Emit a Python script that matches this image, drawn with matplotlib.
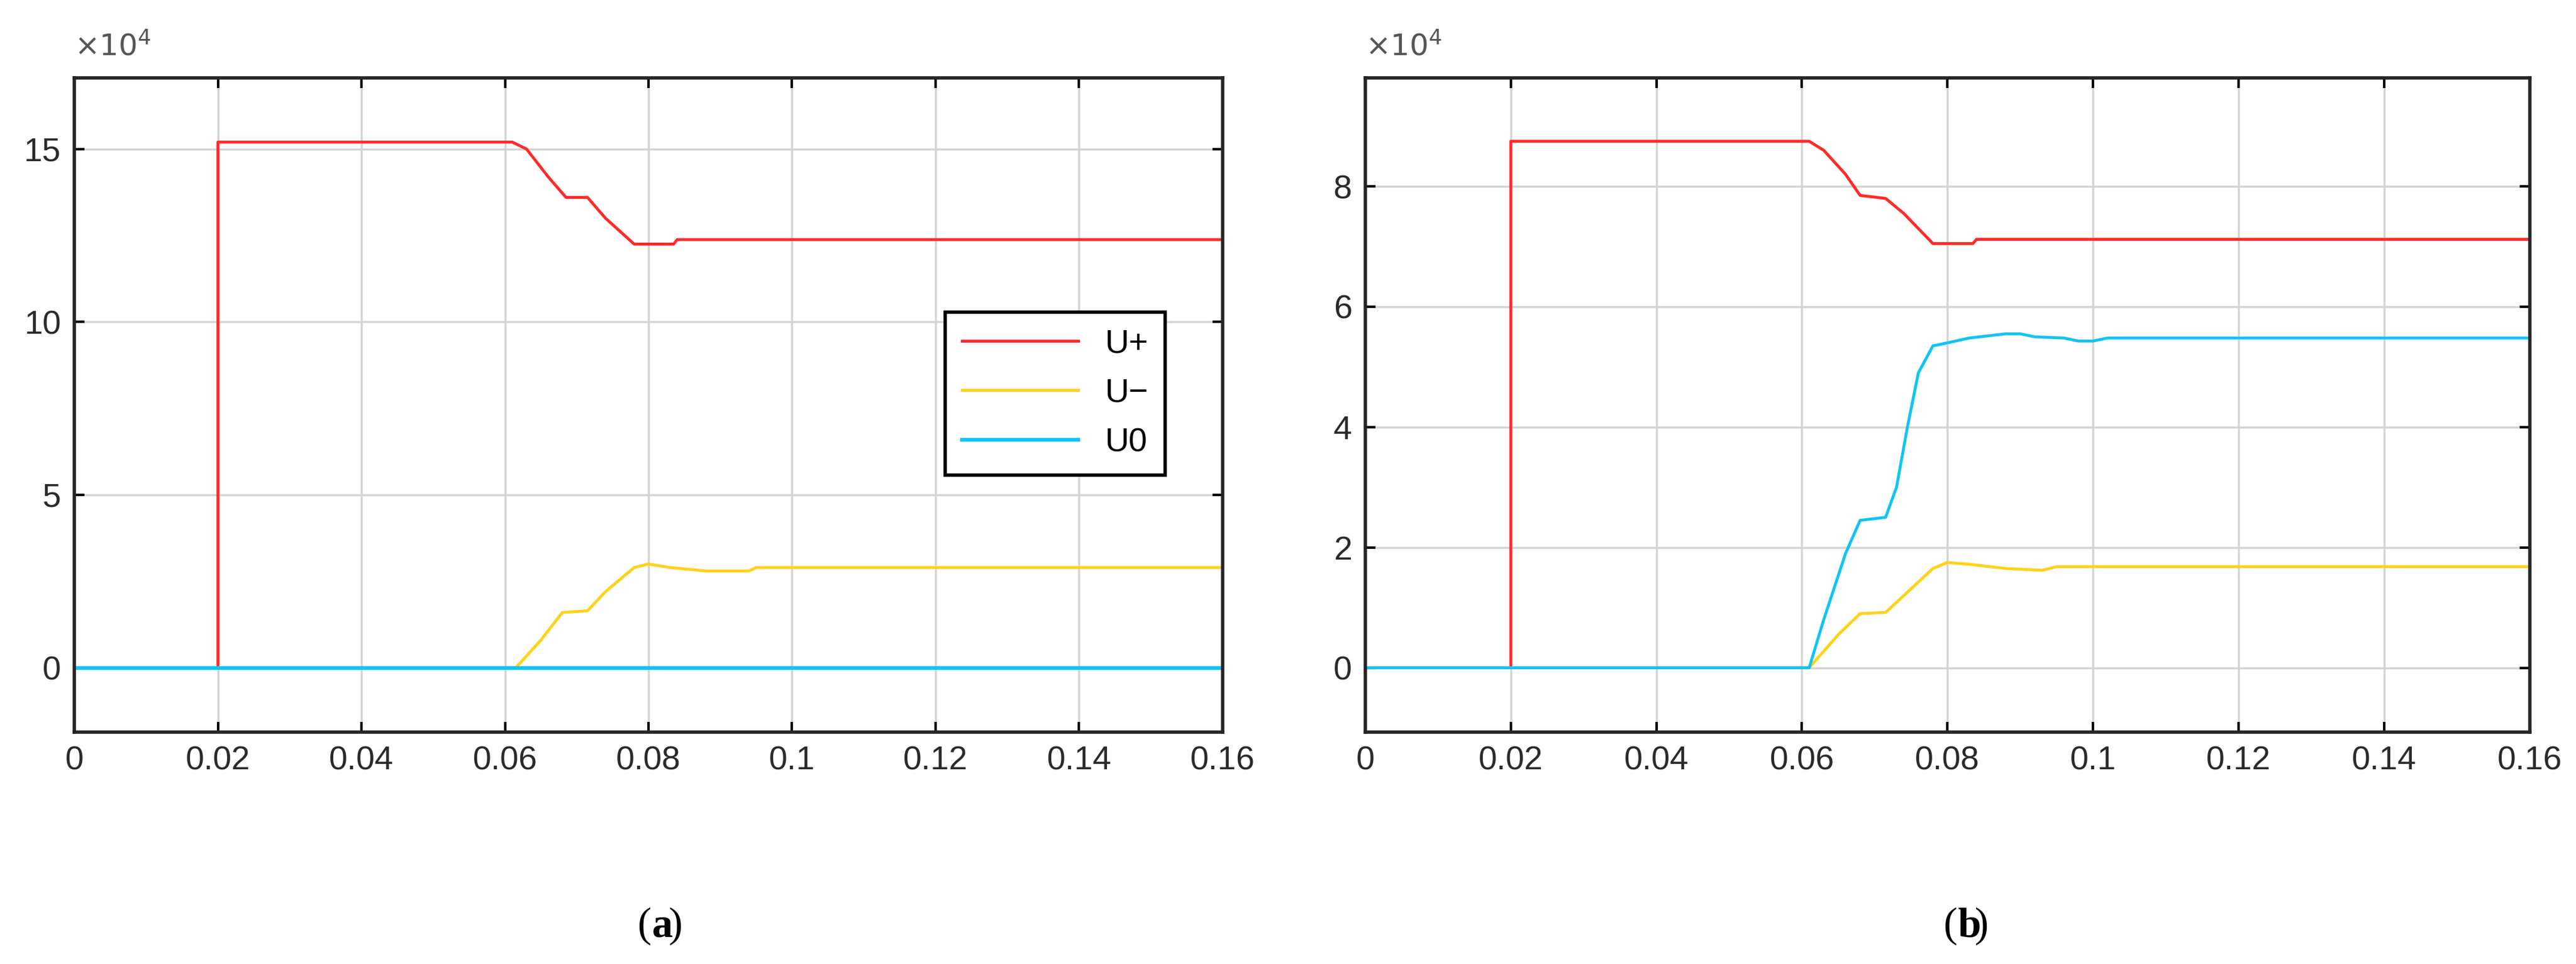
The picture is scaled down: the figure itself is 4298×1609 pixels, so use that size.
import matplotlib
matplotlib.use("Agg")
import matplotlib.pyplot as plt

plt.rcParams["font.family"] = ["Liberation Sans", "DejaVu Sans"]

# panel (a), values in units of 1e4
a_t_plus = [0, 0.02, 0.02, 0.061, 0.063, 0.066, 0.0685, 0.0715, 0.074, 0.078, 0.0835, 0.084, 0.16]
a_u_plus = [0, 0, 15.2, 15.2, 15.0, 14.2, 13.6, 13.6, 13.0, 12.25, 12.25, 12.38, 12.38]
a_t_minus = [0, 0.0615, 0.065, 0.068, 0.0715, 0.074, 0.078, 0.080, 0.083, 0.088, 0.094, 0.095, 0.16]
a_u_minus = [0, 0, 0.8, 1.6, 1.65, 2.2, 2.9, 3.0, 2.9, 2.8, 2.8, 2.9, 2.9]
a_t_zero = [0, 0.16]
a_u_zero = [0, 0]

# panel (b)
b_t_plus = [0, 0.02, 0.02, 0.061, 0.063, 0.066, 0.068, 0.0715, 0.074, 0.078, 0.0835, 0.084, 0.16]
b_u_plus = [0, 0, 8.75, 8.75, 8.6, 8.2, 7.85, 7.8, 7.55, 7.05, 7.05, 7.12, 7.12]
b_t_minus = [0, 0.061, 0.065, 0.068, 0.0715, 0.074, 0.078, 0.080, 0.083, 0.088, 0.093, 0.095, 0.16]
b_u_minus = [0, 0, 0.55, 0.9, 0.92, 1.2, 1.65, 1.75, 1.72, 1.65, 1.62, 1.68, 1.68]
b_t_zero = [0, 0.061, 0.063, 0.066, 0.068, 0.0715, 0.073, 0.0745, 0.076, 0.078, 0.080,
            0.083, 0.088, 0.090, 0.092, 0.096, 0.098, 0.100, 0.102, 0.16]
b_u_zero = [0, 0, 0.8, 1.9, 2.45, 2.5, 3.0, 4.0, 4.9, 5.35, 5.4,
            5.48, 5.55, 5.55, 5.5, 5.48, 5.43, 5.43, 5.48, 5.48]

x_ticks = [0, 0.02, 0.04, 0.06, 0.08, 0.1, 0.12, 0.14, 0.16]
x_labels = ["0", "0.02", "0.04", "0.06", "0.08", "0.1", "0.12", "0.14", "0.16"]

RED = "#ff2a2a"
YEL = "#ffd21a"
CYN = "#10c4f4"

fig = plt.figure(figsize=(42.98, 16.09), dpi=100, facecolor="white")
ax1 = fig.add_axes([0.0289, 0.2405, 0.4457, 0.6785])
ax2 = fig.add_axes([0.530, 0.2405, 0.452, 0.6785])


def style(ax, ylim, yticks):
    ax.set_xlim(0, 0.16)
    ax.set_ylim(*ylim)
    ax.set_xticks(x_ticks)
    ax.set_xticklabels(x_labels)
    ax.set_yticks(yticks)
    ax.set_yticklabels([str(v) for v in yticks])
    ax.grid(True, color="#d4d4d4", linewidth=2.5)
    ax.set_axisbelow(True)
    ax.tick_params(direction="in", length=12, width=3, labelsize=40,
                   labelcolor="#2a2a2a", top=True, right=True, pad=16)
    for s in ax.spines.values():
        s.set_linewidth(4)
        s.set_color("#262626")
    ax.text(0.0, 1.025, r"$\times10^4$", transform=ax.transAxes,
            fontsize=36, color="#555555", va="bottom", ha="left")


ax1.plot(a_t_plus, a_u_plus, color=RED, lw=3.5, label="U+")
ax1.plot(a_t_minus, a_u_minus, color=YEL, lw=3.5, label="U\u2212")
ax1.plot(a_t_zero, a_u_zero, color=CYN, lw=4.5, label="U0")
style(ax1, (-1.86, 17.05), [0, 5, 10, 15])
leg = ax1.legend(loc="upper left", bbox_to_anchor=(0.744, 0.668), fontsize=40,
                 frameon=True, fancybox=False, edgecolor="black", framealpha=1,
                 handlelength=3.5, borderpad=0.5, labelspacing=0.55)
leg.get_frame().set_linewidth(4)

ax2.plot(b_t_plus, b_u_plus, color=RED, lw=3.5)
ax2.plot(b_t_minus, b_u_minus, color=YEL, lw=3.5)
ax2.plot(b_t_zero, b_u_zero, color=CYN, lw=3.5)
style(ax2, (-1.07, 9.8), [0, 2, 4, 6, 8])

for cx, letter in [(0.253, "a"), (0.760, "b")]:
    fig.text(cx, 0.039, "(", fontsize=50, family="Liberation Serif", ha="right", va="center")
    t = fig.text(cx, 0.039, letter, fontsize=50, family="Liberation Serif",
                 weight="bold", ha="left", va="center")
    fig.text(cx + 0.0065, 0.039, ")", fontsize=50, family="Liberation Serif", ha="left", va="center")

fig.savefig("out.png", dpi=100, facecolor="white")
